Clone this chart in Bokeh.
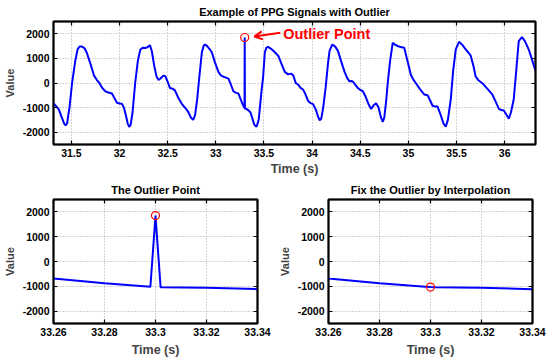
from bokeh.plotting import figure
from bokeh.layouts import column, row
from bokeh.models import Range1d, FixedTicker, LinearAxis, Label, Arrow, OpenHead
from bokeh.embed import file_html
from bokeh.resources import INLINE

# ---- data ----
time_s = [31.314, 31.34, 31.37, 31.40, 31.425, 31.44, 31.455, 31.48, 31.507, 31.54,
          31.565, 31.585, 31.61, 31.635, 31.66, 31.70, 31.735, 31.765, 31.79, 31.82,
          31.852, 31.885, 31.921, 31.945, 31.973, 32.00, 32.024, 32.045, 32.065, 32.085,
          32.10, 32.115, 32.135, 32.162, 32.19, 32.215, 32.24, 32.265, 32.29, 32.315,
          32.335, 32.36, 32.385, 32.405, 32.425, 32.455, 32.475, 32.50, 32.524, 32.55,
          32.575, 32.61, 32.648, 32.68, 32.71, 32.74, 32.765, 32.785, 32.805, 32.83,
          32.855, 32.875, 32.89, 32.91, 32.935, 32.958, 32.99, 33.027, 33.055, 33.079,
          33.105, 33.131, 33.155, 33.182, 33.21, 33.235, 33.26, 33.28, 33.298, 33.300,
          33.302, 33.32, 33.34, 33.36, 33.38, 33.40, 33.423, 33.445, 33.475, 33.49,
          33.509, 33.525, 33.544, 33.57, 33.60, 33.648, 33.68, 33.716, 33.751, 33.78,
          33.803, 33.83, 33.855, 33.88, 33.906, 33.93, 33.958, 33.985, 34.01, 34.04,
          34.06, 34.078, 34.095, 34.115, 34.14, 34.165, 34.181, 34.21, 34.24, 34.268,
          34.30, 34.337, 34.365, 34.389, 34.405, 34.423, 34.45, 34.475, 34.50, 34.527,
          34.555, 34.585, 34.613, 34.64, 34.664, 34.69, 34.715, 34.734, 34.75, 34.77,
          34.785, 34.81, 34.837, 34.86, 34.889, 34.92, 34.957, 34.99, 35.026, 35.05,
          35.078, 35.12, 35.164, 35.199, 35.225, 35.251, 35.28, 35.302, 35.337, 35.365,
          35.388, 35.41, 35.44, 35.465, 35.492, 35.526, 35.56, 35.595, 35.62, 35.647,
          35.675, 35.699, 35.73, 35.768, 35.80, 35.835, 35.871, 35.905, 35.94, 35.965,
          35.991, 36.02, 36.043, 36.065, 36.094, 36.12, 36.146, 36.18, 36.21, 36.249,
          36.28, 36.32]
value = [-830, -930, -1080, -1400, -1650, -1720, -1640, -1000, 0, 900,
         1380, 1480, 1480, 1420, 1230, 750, 300, 120, 0, -200,
         -335, -390, -425, -600, -800, -830, -840, -1000, -1300, -1650,
         -1780, -1700, -1200, -10, 900, 1350, 1430, 1420, 1450, 1540,
         1300, 700, 250, 120, 180, 300, 280, 50, -205, -230,
         -300, -600, -858, -1000, -1150, -1400, -1500, -1300, -700, 300,
         1250, 1530, 1560, 1500, 1380, 1250, 850, 450, 300, 256,
         220, 180, -50, -335, -400, -430, -690, -880, -1015, 1850,
         -1040, -1060, -1115, -1200, -1450, -1700, -1780, -1500, -300, 200,
         1250, 1440, 1465, 1400, 1300, 1110, 800, 453, 350, 380,
         320, 0, -70, -200, -268, -450, -728, -820, -858, -1100,
         -1350, -1515, -1450, -1000, -200, 800, 1307, 1567, 1480, 1307,
         900, 453, 200, 59, 80, 59, -80, -205, -280, -335,
         -550, -850, -1055, -900, -819, -1000, -1400, -1583, -1400, -700,
         -8, 900, 1634, 1560, 1504, 1460, 1437, 900, 323, 150,
         -8, -250, -465, -500, -700, -925, -960, -950, -1319, -1650,
         -1780, -1500, -661, 500, 1370, 1673, 1550, 1370, 1250, 1110,
         700, 256, 100, -8, -150, -300, -465, -750, -1055, -1100,
         -1120, -1300, -1449, -1200, -661, 500, 1700, 1870, 1700, 1370,
         1000, 500]

outlier_time = 33.300
outlier_value = 1850
fixed_value = -1030   # value after interpolation
value_fixed = [fixed_value if t == outlier_time else v for t, v in zip(time_s, value)]

top_xticks = [31.5, 32, 32.5, 33, 33.5, 34, 34.5, 35, 35.5, 36]
top_xtick_labels = ["31.5", "32", "32.5", "33", "33.5", "34", "34.5", "35", "35.5", "36"]
zoom_xticks = [33.26, 33.28, 33.30, 33.32, 33.34]
zoom_xtick_labels = ["33.26", "33.28", "33.3", "33.32", "33.34"]
y_ticks = [-2000, -1000, 0, 1000, 2000]
y_tick_labels = ["-2000", "-1000", "0", "1000", "2000"]

FONT = "Liberation Sans"
BLUE = "#0000ff"
RED = "#ff0000"


def style_axis(ax, ticks, labels, show_labels=True):
    ax.ticker = FixedTicker(ticks=ticks)
    ax.major_tick_in = 4
    ax.major_tick_out = 0
    ax.minor_tick_in = 0
    ax.minor_tick_out = 0
    ax.major_tick_line_color = "black"
    ax.major_tick_line_width = 1.2
    ax.axis_line_color = "black"
    ax.axis_line_width = 1.5
    ax.major_label_text_font = FONT
    ax.major_label_text_font_style = "bold"
    ax.major_label_text_color = "black"
    if show_labels:
        ax.major_label_overrides = {t: l for t, l in zip(ticks, labels)}
        ax.major_label_text_font_size = "10.5px"
        ax.major_label_standoff = 4
    else:
        ax.major_label_overrides = {t: "" for t in ticks}
        ax.major_label_text_font_size = "0px"
        ax.major_label_standoff = 0


def make_fig(width, height, title, x_range, xticks, xlabels, mbl, mbr, mbt, mbb,
             title_standoff, xlabel_standoff):
    p = figure(width=width, height=height, output_backend="svg", toolbar_location=None,
               x_range=Range1d(*x_range), y_range=Range1d(-2500, 2500),
               min_border_left=mbl, min_border_right=mbr,
               min_border_top=mbt, min_border_bottom=mbb)
    p.title.text = title
    p.title.align = "center"
    p.title.text_font = FONT
    p.title.text_font_size = "11px"
    p.title.text_font_style = "bold"
    p.title.text_color = "black"
    p.title.standoff = title_standoff
    p.title.offset = 0
    p.outline_line_color = "black"
    p.outline_line_width = 2
    p.background_fill_color = "white"
    p.border_fill_color = "white"

    style_axis(p.xaxis[0], xticks, xlabels)
    style_axis(p.yaxis[0], y_ticks, y_tick_labels)
    p.xaxis.axis_label = "Time (s)"
    p.xaxis.axis_label_text_font = FONT
    p.xaxis.axis_label_text_font_size = "12.5px"
    p.xaxis.axis_label_text_font_style = "bold"
    p.xaxis.axis_label_standoff = xlabel_standoff
    p.yaxis.axis_label = "Value"
    p.yaxis.axis_label_text_font = FONT
    p.yaxis.axis_label_text_font_size = "11px"
    p.yaxis.axis_label_text_font_style = "bold"
    p.yaxis.axis_label_standoff = 4

    ax_r = LinearAxis()
    style_axis(ax_r, y_ticks, y_tick_labels, show_labels=False)
    p.add_layout(ax_r, "right")
    ax_t = LinearAxis()
    style_axis(ax_t, xticks, xlabels, show_labels=False)
    p.add_layout(ax_t, "above")

    p.xgrid.ticker = FixedTicker(ticks=xticks)
    p.ygrid.ticker = FixedTicker(ticks=y_ticks)
    p.grid.grid_line_color = "#a8a8a8"
    p.grid.grid_line_dash = "1 2"
    p.grid.grid_line_width = 1
    return p


# ---- top plot ----
top = make_fig(550, 178, "Example of PPG Signals with Outlier", (31.314, 36.32),
               top_xticks, top_xtick_labels, 51, 15, 21, 30, 7, 2)
top.line(time_s, value, line_color=BLUE, line_width=2)
top.scatter([outlier_time], [outlier_value], marker="circle", size=8,
            fill_color=None, line_color=RED, line_width=1.2)
top.add_layout(Arrow(end=OpenHead(size=8, line_color=RED, line_width=2),
                     x_start=outlier_time + 0.37, y_start=outlier_value + 190,
                     x_end=outlier_time + 0.10, y_end=outlier_value + 40,
                     line_color=RED, line_width=2))
top.add_layout(Label(x=outlier_time + 0.40, y=outlier_value + 150, text="Outlier Point",
                     text_color=RED, text_font=FONT, text_font_size="14.5px",
                     text_font_style="bold", text_baseline="middle"))

# ---- bottom left: zoom on outlier ----
bl = make_fig(275, 185, "The Outlier Point", (33.26, 33.34),
              zoom_xticks, zoom_xtick_labels, 51, 18, 21, 40, 7, 4)
bl.line(time_s, value, line_color=BLUE, line_width=2)
bl.scatter([outlier_time], [outlier_value], marker="circle", size=8,
           fill_color=None, line_color=RED, line_width=1.2)

# ---- bottom right: fixed by interpolation ----
br = make_fig(275, 185, "Fix the Outlier by Interpolation", (33.26, 33.34),
              zoom_xticks, zoom_xtick_labels, 51, 18, 21, 40, 7, 4)
br.line(time_s, value_fixed, line_color=BLUE, line_width=2)
br.scatter([outlier_time], [fixed_value], marker="circle", size=8,
           fill_color=None, line_color=RED, line_width=1.2)

layout = column(top, row(bl, br))
open("out.html", "w").write(file_html(layout, INLINE))
